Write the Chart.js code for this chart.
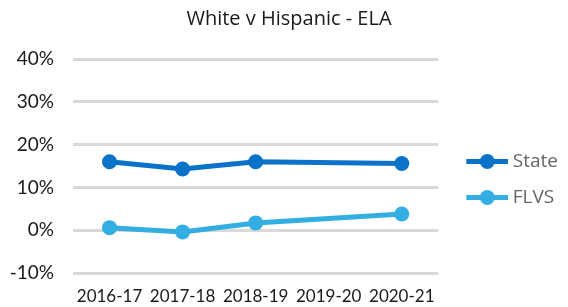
<!DOCTYPE html>
<html>
<head>
<meta charset="utf-8">
<script src="https://cdn.jsdelivr.net/npm/chart.js@4/dist/chart.umd.min.js"></script>
<style>
  html, body { margin: 0; padding: 0; background: #fff; }
  #wrap { width: 568px; height: 307px; position: relative; }
</style>
</head>
<body>
<div id="wrap"><canvas id="c" width="568" height="307"></canvas></div>
<script>
const categories = ['2016-17', '2017-18', '2018-19', '2019-20', '2020-21'];
const stateValues = [16.0, 14.3, 16.0, null, 15.6];
const flvsValues = [0.6, -0.4, 1.7, null, 3.8];
const yTicks = [-10, 0, 10, 20, 30, 40];
const seriesNames = ['State', 'FLVS'];
const titleText = 'White v Hispanic - ELA';

const STATE_COLOR = '#0A72C8';
const FLVS_COLOR = '#33AEE3';

// legend geometry (layout only)
const LEG_FONT = 19, LEG_PAD = 17, LEG_SPACE = 130, CHART_RIGHT = 568 - LEG_SPACE;
const mctx = document.createElement('canvas').getContext('2d');
mctx.font = LEG_FONT + 'px Open Sans';
const tw = Math.max(...seriesNames.map(s => mctx.measureText(s).width));
const pw = Math.round((LEG_SPACE - (LEG_FONT / 2 + LEG_PAD + 10) - tw) / 2) * 2;
const x0 = CHART_RIGHT + LEG_PAD;
const textX = x0 + pw + LEG_FONT / 2;
const lineEnd = Math.round(textX - 4.5);
const cx = x0 + pw / 2;
const iconW = 2 * (lineEnd - cx);

function legendIcon(color) {
  const cv = document.createElement('canvas');
  cv.width = iconW; cv.height = 17;
  const g = cv.getContext('2d');
  g.strokeStyle = color; g.lineWidth = 5;
  g.beginPath(); g.moveTo(iconW - 42, 8.5); g.lineTo(iconW, 8.5); g.stroke();
  g.fillStyle = color;
  g.beginPath(); g.arc(iconW - 21, 8.5, 7.5, 0, Math.PI * 2); g.fill();
  return cv;
}
const icons = [legendIcon(STATE_COLOR), legendIcon(FLVS_COLOR)];

new Chart(document.getElementById('c'), {
  type: 'line',
  data: {
    labels: categories,
    datasets: [
      { label: seriesNames[0], data: stateValues, borderColor: STATE_COLOR, backgroundColor: STATE_COLOR,
        borderWidth: 5, pointRadius: 7.5, pointHoverRadius: 7.5, pointBackgroundColor: STATE_COLOR,
        pointBorderWidth: 0, spanGaps: true, tension: 0 },
      { label: seriesNames[1], data: flvsValues, borderColor: FLVS_COLOR, backgroundColor: FLVS_COLOR,
        borderWidth: 5, pointRadius: 7.5, pointHoverRadius: 7.5, pointBackgroundColor: FLVS_COLOR,
        pointBorderWidth: 0, spanGaps: true, tension: 0 }
    ]
  },
  options: {
    responsive: false,
    animation: false,
    devicePixelRatio: 1,
    layout: { padding: { left: 10, right: 0, top: 0, bottom: 0 } },
    plugins: {
      title: {
        display: true, text: titleText, color: '#1a1a1a',
        font: { family: 'Open Sans', size: 20, weight: 'normal', lineHeight: 1.2 },
        padding: { top: 7, bottom: 28 }
      },
      legend: {
        position: 'right',
        title: { display: true, text: '', font: { size: 16, lineHeight: 1 }, padding: 18 },
        labels: {
          usePointStyle: true,
          pointStyleWidth: pw,
          boxHeight: 16,
          padding: LEG_PAD,
          color: '#1a1a1a',
          font: { family: 'Open Sans', size: LEG_FONT },
          generateLabels: (chart) => chart.data.datasets.map((ds, i) => ({
            text: ds.label, pointStyle: icons[i], fillStyle: ds.borderColor,
            strokeStyle: ds.borderColor, lineWidth: 0, hidden: false, datasetIndex: i
          }))
        }
      },
      tooltip: { enabled: false }
    },
    scales: {
      x: {
        offset: true,
        grid: { display: false, drawTicks: false },
        border: { display: false },
        ticks: { color: '#1a1a1a', font: { family: 'Lato', size: 17 }, padding: 13, maxRotation: 0 },
        afterFit: (s) => { s.height = 34; }
      },
      y: {
        min: -10, max: 40,
        afterBuildTicks: (axis) => { axis.ticks = yTicks.map(v => ({ value: v })); },
        grid: { color: '#d9d9d9', lineWidth: 3, drawTicks: false },
        border: { display: false },
        ticks: { color: '#1a1a1a', font: { family: 'Lato', size: 19 }, padding: 19,
                 callback: (v) => v + '%' },
        afterFit: (s) => { s.width = 63; }
      }
    }
  }
});
</script>
</body>
</html>
